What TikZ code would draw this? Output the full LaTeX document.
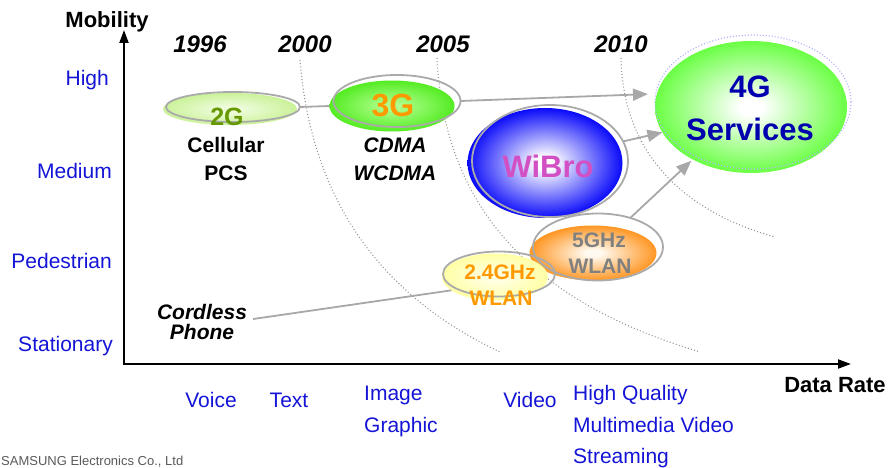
\documentclass[tikz,border=0pt]{standalone}
\usepackage{fontspec}
\setmainfont{Liberation Sans}
\usetikzlibrary{shapes.geometric,arrows.meta}
\definecolor{axblue}{RGB}{20,20,215}
\definecolor{ringgray}{RGB}{170,170,170}
\definecolor{conngray}{RGB}{168,168,168}
\definecolor{arcgray}{RGB}{150,150,150}
\definecolor{dotlav}{RGB}{175,175,255}
\definecolor{olive}{RGB}{102,153,0}
\definecolor{orangeT}{RGB}{255,153,0}
\definecolor{pinkT}{RGB}{210,80,195}
\definecolor{navyT}{RGB}{0,0,175}
\definecolor{grayT}{RGB}{128,128,128}
\definecolor{c2gin}{RGB}{238,252,220}
\definecolor{c2gout}{RGB}{196,240,140}
\definecolor{c3gin}{RGB}{175,255,140}
\definecolor{c3gout}{RGB}{80,235,30}
\definecolor{cwin}{RGB}{255,255,255}
\definecolor{cwout}{RGB}{10,10,250}
\definecolor{c4in}{RGB}{255,255,255}
\definecolor{c4out}{RGB}{100,255,60}
\definecolor{c5in}{RGB}{255,250,240}
\definecolor{c5out}{RGB}{255,150,35}
\definecolor{c24in}{RGB}{255,255,225}
\definecolor{c24out}{RGB}{255,255,150}
\pgfdeclareradialshading{shTwoG}{\pgfpoint{0bp}{0bp}}{color(0bp)=(c2gin); color(4bp)=(c2gin); color(29bp)=(c2gout); color(50bp)=(c2gout)}
\pgfdeclareradialshading{shThreeG}{\pgfpoint{0bp}{0bp}}{color(0bp)=(c3gin); color(3bp)=(c3gin); color(26bp)=(c3gout); color(50bp)=(c3gout)}
\pgfdeclareradialshading{shWiBro}{\pgfpoint{0bp}{0bp}}{color(0bp)=(cwin); color(3bp)=(cwin); color(25bp)=(cwout); color(50bp)=(cwout)}
\pgfdeclareradialshading{shFourG}{\pgfpoint{0bp}{0bp}}{color(0bp)=(c4in); color(3bp)=(c4in); color(26bp)=(c4out); color(50bp)=(c4out)}
\pgfdeclareradialshading{shFiveG}{\pgfpoint{0bp}{0bp}}{color(0bp)=(c5in); color(3bp)=(c5in); color(25bp)=(c5out); color(50bp)=(c5out)}
\pgfdeclareradialshading{shTwoFour}{\pgfpoint{0bp}{0bp}}{color(0bp)=(c24in); color(5bp)=(c24in); color(30bp)=(c24out); color(50bp)=(c24out)}
\tikzset{
  ylab/.style={font=\fontsize{21}{25}\selectfont, text=axblue, inner sep=0, anchor=base east},
  xlab/.style={font=\fontsize{21}{25}\selectfont, text=axblue, inner sep=0, anchor=base},
  xlabl/.style={xlab, anchor=base west},
  year/.style={font=\fontsize{24}{28}\selectfont\bfseries\itshape, inner sep=0, anchor=base},
  axtitle/.style={font=\fontsize{22}{26}\selectfont\bfseries, inner sep=0, anchor=base},
  tech/.style={font=\fontsize{21}{25}\selectfont\bfseries, inner sep=0, anchor=base},
  techit/.style={font=\fontsize{21}{25}\selectfont\bfseries\itshape, inner sep=0, anchor=base},
  big/.style={font=\fontsize{31}{36}\selectfont\bfseries, inner sep=0, anchor=base},
  blob/.style={ellipse, inner sep=0, outer sep=0},
  ring/.style={ellipse, inner sep=0, outer sep=0, draw=ringgray, line width=1.8pt},
  conn/.style={draw=conngray, line width=1.8pt},
  connarrow/.style={conn, -{Triangle[length=15pt,width=12pt]}},
  era/.style={draw=arcgray, line width=1.1pt, dash pattern=on 1pt off 2.2pt},
  axisline/.style={line width=2pt, -{Triangle[length=13pt,width=9pt]}}
}
\begin{document}
\begin{tikzpicture}[x=1pt,y=-1pt]
\useasboundingbox (0,0) rectangle (894,468);
% era arcs
\draw[era] (300,60) .. controls (312,210) and (390,300) .. (500,352);
\draw[era] (437,58) .. controls (445,230) and (560,310) .. (700,352);
\draw[era] (621,58) .. controls (623,155) and (685,212) .. (775,237);
% axes
\coordinate (O) at (124,364);
\coordinate (ytip) at (124,30);
\coordinate (xtip) at (851,364);
\draw[axisline] (O) -- (ytip);
\draw[axisline] ([xshift=-1pt]O) -- (xtip);
\node[axtitle] (mob) at (107,28) {Mobility};
\node[axtitle] (drate) at (835,392) {Data Rate};
% years
\node[year] (y96) at (200,53) {1996};
\node[year] (y00) at (305,53) {2000};
\node[year] (y05) at (443,53) {2005};
\node[year] (y10) at (621,53) {2010};
% y labels
\node[ylab] (lh) at (109,86) {High};
\node[ylab] (lm) at (112,178) {Medium};
\node[ylab] (lp) at (112,268) {Pedestrian};
\node[ylab] (ls) at (113,351) {Stationary};
% x labels
\node[xlab] (xv) at (211,407) {Voice};
\node[xlab] (xt) at (289,407) {Text};
\node[xlabl] (xi) at (364,400) {Image};
\node[xlabl] (xg) at (364,432) {Graphic};
\node[xlab] (xvid) at (530,407) {Video};
\node[xlabl] (xh1) at (573,400) {High Quality};
\node[xlabl] (xh2) at (573,432) {Multimedia Video};
\node[xlabl] (xh3) at (573,463) {Streaming};
\node[font=\fontsize{13}{15}\selectfont, text=black!65, inner sep=0, anchor=base west] (sam) at (1,465) {SAMSUNG Electronics Co., Ltd};
% blobs
\node[blob, minimum width=134pt, minimum height=32pt, shading=shTwoG] (g2) at (230,109) {};
\node[ring, minimum width=134pt, minimum height=30pt] (g2o) at (233,107) {};
\node[blob, minimum width=125pt, minimum height=51pt, shading=shThreeG] (g3) at (392,106) {};
\node[ring, minimum width=127pt, minimum height=52pt] (g3o) at (397,101) {};
\node[blob, minimum width=155pt, minimum height=110pt, shading=shWiBro] (wib) at (545,163) {};
\node[ring, minimum width=156pt, minimum height=112pt] (wibo) at (550,161) {};
\node[blob, minimum width=192pt, minimum height=132pt, shading=shFourG] (g4) at (751,107) {};
\node[blob, minimum width=196pt, minimum height=134pt, draw=dotlav, line width=1.2pt, dash pattern=on 1pt off 2pt] (g4o) at (753,102) {};
\node[blob, minimum width=127pt, minimum height=55pt, shading=shFiveG] (f5) at (593,253) {};
\node[ring, minimum width=130pt, minimum height=67pt] (f5o) at (598,247) {};
\node[blob, minimum width=106pt, minimum height=47pt, shading=shTwoFour] (f24) at (495,277) {};
\node[ring, minimum width=112pt, minimum height=45pt] (f24o) at (499,274) {};
% texts
\node[tech, font=\fontsize{25}{29}\selectfont\bfseries, text=olive] (t2g) at (227,126) {2G};
\node[tech] (t2a) at (226,153) {Cellular};
\node[tech] (t2b) at (226,180) {PCS};
\node[tech, font=\fontsize{32}{36}\selectfont\bfseries, text=orangeT] (t3g) at (393,117) {3G};
\node[techit] (t3a) at (395,153) {CDMA};
\node[techit] (t3b) at (395,180) {WCDMA};
\node[big, text=pinkT] (twib) at (548,177) {WiBro};
\node[big, text=navyT] (t4a) at (750,98) {4G};
\node[big, text=navyT] (t4b) at (750,140) {Services};
\node[tech, text=grayT] (t5a) at (599,247) {5GHz};
\node[tech, text=grayT] (t5b) at (600,273) {WLAN};
\node[tech, text=orangeT] (t24a) at (500,279) {2.4GHz};
\node[tech, text=orangeT] (t24b) at (501,305) {WLAN};
\node[techit] (cord1) at (202,319) {Cordless};
\node[techit] (cord2) at (202,339) {Phone};
% connectors
\draw[conn] (g2o.east) -- (g3.west);
\draw[connarrow, shorten >=9pt] (g3o.east) -- (g4.172);
\draw[connarrow] (wibo.15) -- (g4.196);
\draw[connarrow, shorten >=2pt] (f5o.42) -- (g4.222);
\draw[conn] ([xshift=6pt]cord1.base east) -- (f24.197);
\end{tikzpicture}
\end{document}
